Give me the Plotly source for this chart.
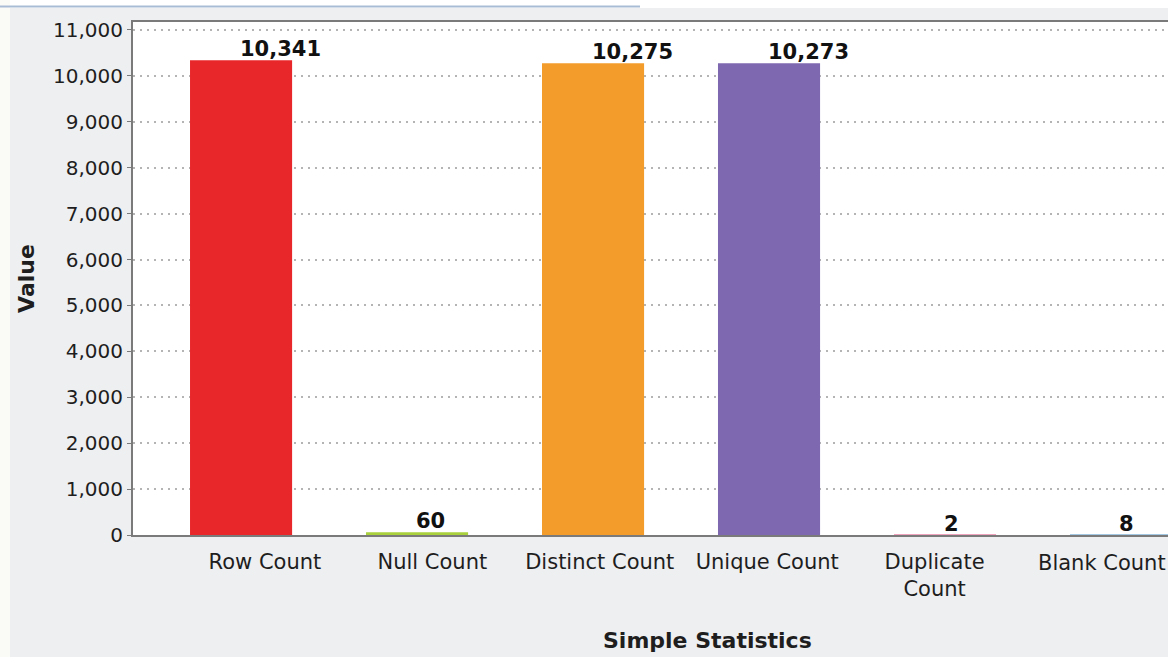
import plotly.graph_objects as go

categories = ["Row Count", "Null Count", "Distinct Count", "Unique Count", "Duplicate<br>Count", "Blank Count"]
values = [10341, 60, 10275, 10273, 2, 8]
value_labels = ["10,341", "60", "10,275", "10,273", "2", "8"]
colors = ["#E8272B", "#A9D13C", "#F39C2C", "#7E69B0", "#F0A3BC", "#A3C8E4"]
y_ticks = list(range(0, 11001, 1000))
y_tick_labels = [f"{v:,}" for v in y_ticks]

TXT = "#1E1E1E"
FONT = "DejaVu Sans"
W, H = 1168, 657
ML, MR, MT, MB = 133, 0, 22, 122
PW, PH = W - ML - MR, H - MT - MB
idx = list(range(len(categories)))

fig = go.Figure()
fig.add_trace(go.Bar(
    x=idx, y=values,
    marker=dict(color=colors, line=dict(width=0)),
    width=0.58, showlegend=False, hoverinfo="x+y",
))
# invisible trace carrying the category label axis
fig.add_trace(go.Scatter(
    x=idx, y=[0] * len(idx), xaxis="x2", yaxis="y",
    mode="markers", marker=dict(opacity=0), showlegend=False, hoverinfo="skip",
))

annotations = []
for i, (v, lab) in enumerate(zip(values, value_labels)):
    annotations.append(dict(
        x=i - 0.02, y=v, text=f"<b>{lab}</b>", showarrow=False,
        xanchor="left", yanchor="bottom", yshift=-3,
        font=dict(family=FONT, size=21, color="#111111"),
    ))

# last category label drawn as an annotation so it is not dropped at the edge
tick_text = categories[:-1] + [""]
annotations.append(dict(
    xref="x2", yref="paper", x=idx[-1], y=0, text=categories[-1], showarrow=False,
    xanchor="center", yanchor="top", yshift=-14,
    font=dict(family=FONT, size=21, color=TXT),
))
annotations.append(dict(
    text="<b>Simple Statistics</b>", xref="paper", yref="paper",
    x=(707 - ML) / PW, y=-(640 - (MT + PH)) / PH, xanchor="center", yanchor="middle",
    showarrow=False, font=dict(family=FONT, size=22, color=TXT),
))

px_x = lambda p: (p - ML) / PW
px_y = lambda p: 1 - (p - MT) / PH

fig.update_layout(
    width=W, height=H,
    margin=dict(l=ML, r=MR, t=MT, b=MB),
    paper_bgcolor="#EEEFF1",
    plot_bgcolor="#FFFFFF",
    xaxis=dict(
        tickmode="array", tickvals=idx, ticktext=[""] * len(idx),
        range=[-0.614, 5.267],
        showgrid=False,
        showline=True, linecolor="#7A7A7A", linewidth=2, mirror=True,
        ticks="", zeroline=False,
    ),
    xaxis2=dict(
        overlaying="x", side="bottom",
        tickmode="array", tickvals=idx, ticktext=tick_text,
        range=[-0.788, 5.394],
        showgrid=False, showline=False, zeroline=False, ticks="",
        ticklabelstandoff=12,
        tickfont=dict(family=FONT, size=21, color=TXT),
    ),
    yaxis=dict(
        range=[0, 11174],
        tickmode="array", tickvals=y_ticks, ticktext=y_tick_labels,
        showgrid=True, gridcolor="#B4B4B4", griddash="2px,5px", gridwidth=1.5,
        showline=True, linecolor="#7A7A7A", linewidth=2,
        ticks="outside", ticklen=4, tickcolor="#7A7A7A",
        tickfont=dict(family=FONT, size=20, color=TXT),
        zeroline=False,
        title=dict(text="<b>Value</b>", font=dict(family=FONT, size=22, color=TXT), standoff=12),
    ),
    font=dict(family=FONT),
    shapes=[
        # window chrome around the chart panel
        dict(type="rect", xref="paper", yref="paper", layer="below",
             x0=px_x(0), x1=px_x(W), y0=px_y(8), y1=px_y(0),
             fillcolor="#FFFFFF", line=dict(width=0)),
        dict(type="rect", xref="paper", yref="paper", layer="below",
             x0=px_x(0), x1=px_x(10), y0=px_y(H), y1=px_y(0),
             fillcolor="#FAFAF6", line=dict(width=0)),
        dict(type="line", xref="paper", yref="paper",
             x0=px_x(0), x1=px_x(640), y0=px_y(6.5), y1=px_y(6.5),
             line=dict(color="#A9BCD6", width=2)),
    ],
    annotations=annotations,
)

fig.write_html(
    "out.html",
    config={"displayModeBar": False},
    post_script="document.body.style.margin='0';document.body.style.overflow='hidden';",
)
